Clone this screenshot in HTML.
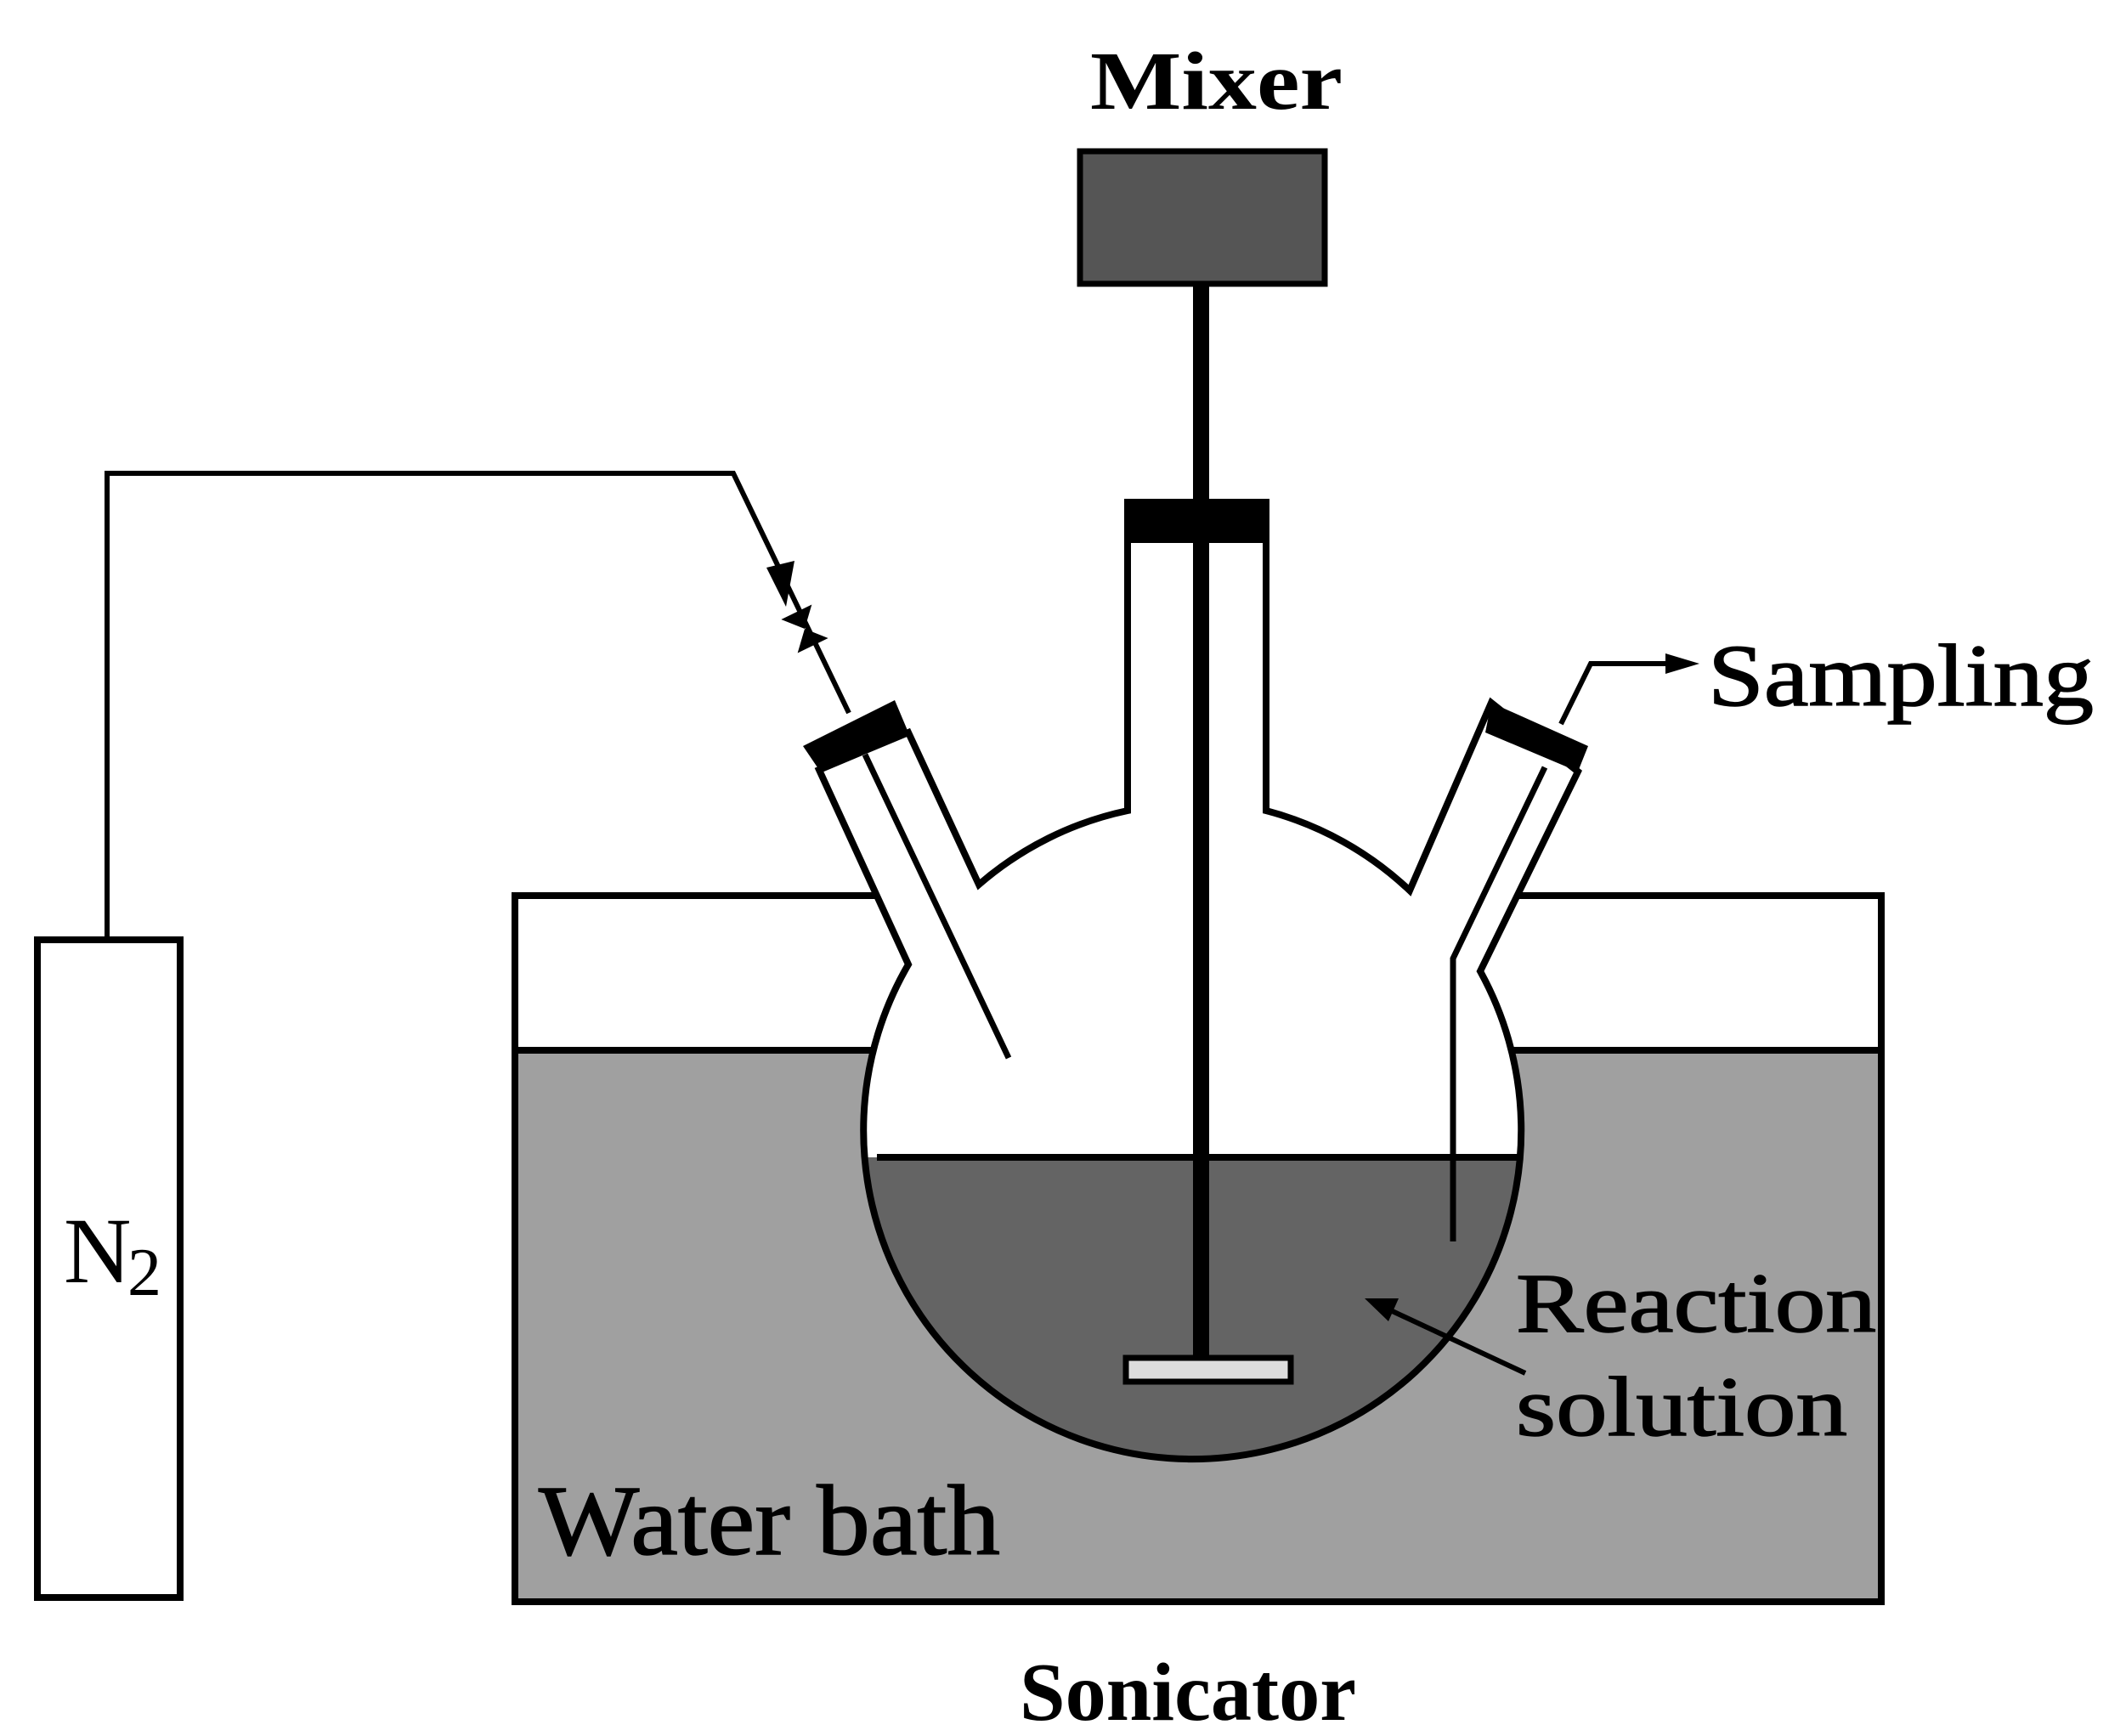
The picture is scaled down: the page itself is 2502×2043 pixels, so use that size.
<!DOCTYPE html>
<html><head><meta charset="utf-8"><style>html,body{margin:0;padding:0;background:#fff}svg{display:block}</style></head>
<body>
<svg width="2502" height="2043" viewBox="0 0 2502 2043" xmlns="http://www.w3.org/2000/svg" font-family="'Liberation Serif', serif">
<defs>
<clipPath id="liq"><rect x="0" y="1362" width="2502" height="700"/></clipPath>
<path id="flask" d="M1069,1135 A387,387 0 1 0 1742,1143 L1857,908 L1755,827 L1659,1048 A390,390 0 0 0 1490,954 L1490,635 L1327,635 L1327,954 A390,390 0 0 0 1152,1041 L1069,862 L964,906 Z"/>
</defs>
<!-- water bath -->
<rect x="606" y="1054" width="1608" height="831" fill="#fff" stroke="#000" stroke-width="8"/>
<rect x="610" y="1236" width="1600" height="645" fill="#a0a0a0"/>
<line x1="606" y1="1236" x2="2214" y2="1236" stroke="#000" stroke-width="8"/>
<!-- N2 cylinder -->
<rect x="44" y="1106" width="168" height="774" fill="#fff" stroke="#000" stroke-width="8"/>
<polyline points="126,1106 126,557 863,557 999,839" fill="none" stroke="#000" stroke-width="6"/>
<polygon points="925,714 902,668 935,660" fill="#000"/>
<g transform="translate(947,740) rotate(-26)">
<polygon points="-20,-22 20,-22 0,0" fill="#000"/>
<polygon points="-20,22 20,22 0,0" fill="#000"/>
</g>
<!-- flask -->
<use href="#flask" fill="#fff"/>
<use href="#flask" fill="#646464" clip-path="url(#liq)"/>
<line x1="1032" y1="1362" x2="1788" y2="1362" stroke="#000" stroke-width="8"/>
<use href="#flask" fill="none" stroke="#000" stroke-width="8"/>
<!-- caps -->
<polygon points="945,878 1053,824 1069,862 964,906" fill="#000"/>
<polygon points="1755,827 1869,878 1857,908 1748,862" fill="#000"/>
<rect x="1323" y="587" width="171" height="48" fill="#000"/>
<!-- inlet tube -->
<line x1="1018" y1="888" x2="1187" y2="1245" stroke="#000" stroke-width="7"/>
<!-- sampling tube -->
<polyline points="1818,903 1710,1128 1710,1461" fill="none" stroke="#000" stroke-width="7"/>
<polyline points="1837,852 1872,781 1975,781" fill="none" stroke="#000" stroke-width="6"/>
<polygon points="2000,781 1960,769 1960,793" fill="#000"/>
<!-- mixer -->
<rect x="1271" y="178" width="288" height="156" fill="#555" stroke="#000" stroke-width="7"/>
<rect x="1404" y="334" width="19" height="1264" fill="#000"/>
<rect x="1325" y="1598" width="194" height="28" fill="#ddd" stroke="#000" stroke-width="7"/>
<!-- reaction arrow -->
<line x1="1795" y1="1616" x2="1630" y2="1539" stroke="#000" stroke-width="6"/>
<polygon points="1606,1528 1646,1528 1634,1555" fill="#000"/>
<!-- text -->
<text x="1283" y="128" font-size="98" font-weight="bold" textLength="297" lengthAdjust="spacingAndGlyphs">Mixer</text>
<text x="2010" y="830" font-size="104" textLength="454" lengthAdjust="spacingAndGlyphs" stroke="#000" stroke-width="1.5">Sampling</text>
<text x="1784" y="1567" font-size="100" textLength="424" lengthAdjust="spacingAndGlyphs" stroke="#000" stroke-width="1.5">Reaction</text>
<text x="1784" y="1689" font-size="100" textLength="390" lengthAdjust="spacingAndGlyphs" stroke="#000" stroke-width="1.5">solution</text>
<text x="634" y="1829" font-size="118" textLength="543" lengthAdjust="spacingAndGlyphs" stroke="#000" stroke-width="1.5">Water  bath</text>
<text x="75" y="1509" font-size="110">N</text>
<text x="150" y="1524" font-size="80">2</text>
<text x="1200" y="2024" font-size="98" font-weight="bold" textLength="396" lengthAdjust="spacingAndGlyphs">Sonicator</text>
</svg>
</body></html>
